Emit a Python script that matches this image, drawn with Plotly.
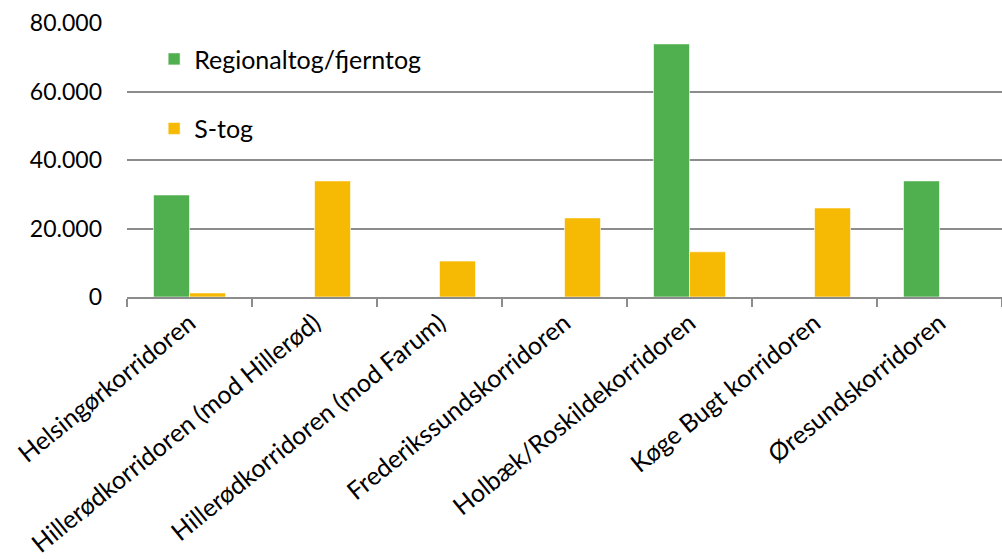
import plotly.graph_objects as go

categories = [
    "Helsingørkorridoren",
    "Hillerødkorridoren (mod Hillerød)",
    "Hillerødkorridoren (mod Farum)",
    "Frederikssundskorridoren",
    "Holbæk/Roskildekorridoren",
    "Køge Bugt korridoren",
    "Øresundskorridoren",
]
regional = [29800, 0, 0, 0, 73900, 0, 33900]
stog = [1200, 33900, 10500, 23100, 13200, 26000, 0]
series_names = ["Regionaltog/fjerntog", "S-tog"]
y_ticks = [0, 20000, 40000, 60000, 80000]

GREEN = "#50AF4E"
YELLOW = "#F7BA04"
GRID = "#8C8C8C"
FONT = "Lato"

fig = go.Figure()
fig.add_trace(go.Bar(x=categories, y=regional, name=series_names[0],
                     marker=dict(color=GREEN, line=dict(color="rgba(255,255,255,0.6)", width=1)),
                     legendgroup="a"))
fig.add_trace(go.Bar(x=categories, y=stog, name=series_names[1],
                     marker=dict(color=YELLOW, line=dict(color="rgba(255,255,255,0.6)", width=1)),
                     legendgroup="b"))

fig.update_layout(
    width=1002, height=559,
    margin=dict(l=127, r=0, t=23, b=262, pad=0),
    paper_bgcolor="white", plot_bgcolor="white",
    barmode="group", bargap=0.424, bargroupgap=0,
    separators=",.",
    font=dict(family=FONT, size=23, color="#000000"),
    showlegend=True,
    legend=dict(x=0.031, y=0.952, xanchor="left", yanchor="top",
                bgcolor="rgba(0,0,0,0)", tracegroupgap=34,
                font=dict(family=FONT, size=25, color="#000000"),
                itemwidth=30),
)
fig.update_yaxes(range=[0, 80000], tickvals=y_ticks, tickformat=",d",
                 showgrid=True, gridcolor=GRID, gridwidth=1.5,
                 zeroline=False, showline=False, ticks="",
                 ticklabelstandoff=24, automargin=False,
                 tickfont=dict(family=FONT, size=23, color="#000000"))
fig.update_xaxes(type="category", tickangle=-39, tickson="boundaries",
                 ticks="outside", ticklen=8, tickcolor=GRID, tickwidth=1.5,
                 showline=True, linecolor=GRID, linewidth=1.5,
                 showgrid=False, automargin=False,
                 tickfont=dict(family=FONT, size=25, color="#000000"))

fig.write_html("out.html")
